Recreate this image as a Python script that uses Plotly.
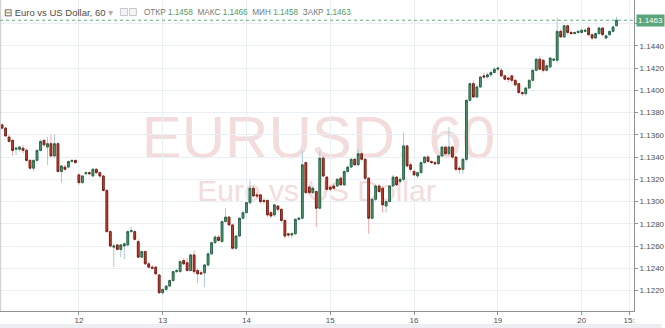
import plotly.graph_objects as go

# ---------------- data (EURUSD, 60 min) ----------------
open_ = [1.1369, 1.1366, 1.1358, 1.1355, 1.1347, 1.1347, 1.1348, 1.1346, 1.1337, 1.1330,
         1.1337, 1.1346, 1.1355, 1.1349, 1.1352, 1.1341, 1.1352, 1.1327, 1.1331, 1.1331,
         1.1336, 1.1337, 1.1324, 1.1317, 1.1325, 1.1326, 1.1323, 1.1329, 1.1326, 1.1323,
         1.1310, 1.1273, 1.1259, 1.1261, 1.1257, 1.1260, 1.1261, 1.1273, 1.1273, 1.1264,
         1.1250, 1.1255, 1.1244, 1.1241, 1.1241, 1.1234, 1.1218, 1.1221, 1.1224, 1.1229,
         1.1237, 1.1237, 1.1247, 1.1245, 1.1238, 1.1252, 1.1238, 1.1236, 1.1236, 1.1243,
         1.1253, 1.1263, 1.1268, 1.1264, 1.1282, 1.1286, 1.1279, 1.1258, 1.1269, 1.1285,
         1.1290, 1.1299, 1.1312, 1.1306, 1.1306, 1.1301, 1.1301, 1.1290, 1.1288, 1.1296,
         1.1293, 1.1283, 1.1271, 1.1270, 1.1271, 1.1284, 1.1285, 1.1335, 1.1313, 1.1308,
         1.1309, 1.1294, 1.1339, 1.1322, 1.1313, 1.1314, 1.1314, 1.1321, 1.1315, 1.1327,
         1.1331, 1.1338, 1.1333, 1.1343, 1.1338, 1.1321, 1.1285, 1.1302, 1.1314, 1.1312,
         1.1296, 1.1300, 1.1314, 1.1322, 1.1318, 1.1320, 1.1350, 1.1333, 1.1327, 1.1323,
         1.1326, 1.1335, 1.1340, 1.1336, 1.1335, 1.1334, 1.1341, 1.1349, 1.1343, 1.1349,
         1.1340, 1.1330, 1.1329, 1.1338, 1.1391, 1.1406, 1.1394, 1.1403, 1.1413, 1.1412,
         1.1414, 1.1416, 1.1419, 1.1418, 1.1413, 1.1411, 1.1413, 1.1409, 1.1406, 1.1398,
         1.1397, 1.1402, 1.1409, 1.1418, 1.1428, 1.1427, 1.1418, 1.1421, 1.1427, 1.1427,
         1.1453, 1.1448, 1.1458, 1.1452, 1.1451, 1.1452, 1.1452, 1.1453, 1.1456, 1.1450,
         1.1447, 1.1451, 1.1456, 1.1447, 1.1450, 1.1453, 1.1458]
high = [1.1370, 1.1367, 1.1360, 1.1356, 1.1350, 1.1350, 1.1351, 1.1348, 1.1338, 1.1338,
        1.1347, 1.1356, 1.1356, 1.1358, 1.1360, 1.1360, 1.1353, 1.1333, 1.1333, 1.1337,
        1.1338, 1.1338, 1.1325, 1.1324, 1.1327, 1.1327, 1.1330, 1.1330, 1.1327, 1.1324,
        1.1311, 1.1274, 1.1262, 1.1262, 1.1262, 1.1263, 1.1274, 1.1277, 1.1274, 1.1266,
        1.1256, 1.1256, 1.1246, 1.1243, 1.1242, 1.1235, 1.1222, 1.1225, 1.1230, 1.1238,
        1.1240, 1.1247, 1.1249, 1.1249, 1.1253, 1.1256, 1.1240, 1.1238, 1.1244, 1.1255,
        1.1264, 1.1270, 1.1270, 1.1283, 1.1294, 1.1287, 1.1280, 1.1270, 1.1286, 1.1292,
        1.1300, 1.1319, 1.1314, 1.1308, 1.1307, 1.1303, 1.1302, 1.1292, 1.1298, 1.1297,
        1.1294, 1.1284, 1.1272, 1.1273, 1.1285, 1.1286, 1.1346, 1.1336, 1.1315, 1.1314,
        1.1310, 1.1345, 1.1341, 1.1323, 1.1315, 1.1316, 1.1321, 1.1322, 1.1328, 1.1332,
        1.1339, 1.1339, 1.1347, 1.1345, 1.1339, 1.1322, 1.1303, 1.1316, 1.1316, 1.1314,
        1.1301, 1.1315, 1.1324, 1.1323, 1.1322, 1.1362, 1.1351, 1.1335, 1.1329, 1.1327,
        1.1336, 1.1341, 1.1342, 1.1337, 1.1337, 1.1342, 1.1350, 1.1350, 1.1367, 1.1350,
        1.1341, 1.1332, 1.1339, 1.1392, 1.1407, 1.1409, 1.1405, 1.1413, 1.1416, 1.1416,
        1.1418, 1.1421, 1.1421, 1.1420, 1.1414, 1.1412, 1.1414, 1.1410, 1.1407, 1.1399,
        1.1403, 1.1410, 1.1419, 1.1429, 1.1431, 1.1428, 1.1424, 1.1430, 1.1429, 1.1465,
        1.1455, 1.1459, 1.1459, 1.1454, 1.1453, 1.1454, 1.1456, 1.1455, 1.1458, 1.1451,
        1.1452, 1.1457, 1.1457, 1.1450, 1.1453, 1.1458, 1.1466]
low = [1.1365, 1.1358, 1.1353, 1.1341, 1.1342, 1.1345, 1.1343, 1.1336, 1.1329, 1.1327,
       1.1335, 1.1345, 1.1349, 1.1333, 1.1340, 1.1339, 1.1326, 1.1317, 1.1328, 1.1330,
       1.1335, 1.1334, 1.1315, 1.1316, 1.1324, 1.1324, 1.1322, 1.1325, 1.1321, 1.1309,
       1.1272, 1.1259, 1.1241, 1.1256, 1.1250, 1.1248, 1.1259, 1.1272, 1.1265, 1.1249,
       1.1249, 1.1243, 1.1240, 1.1239, 1.1234, 1.1217, 1.1216, 1.1220, 1.1223, 1.1228,
       1.1236, 1.1236, 1.1243, 1.1237, 1.1237, 1.1235, 1.1227, 1.1234, 1.1223, 1.1241,
       1.1252, 1.1262, 1.1264, 1.1263, 1.1281, 1.1278, 1.1257, 1.1257, 1.1268, 1.1284,
       1.1289, 1.1297, 1.1304, 1.1303, 1.1298, 1.1298, 1.1286, 1.1285, 1.1286, 1.1291,
       1.1281, 1.1267, 1.1268, 1.1267, 1.1270, 1.1283, 1.1284, 1.1307, 1.1306, 1.1307,
       1.1277, 1.1293, 1.1322, 1.1309, 1.1309, 1.1311, 1.1313, 1.1314, 1.1314, 1.1326,
       1.1330, 1.1332, 1.1332, 1.1336, 1.1319, 1.1271, 1.1284, 1.1300, 1.1308, 1.1290,
       1.1290, 1.1299, 1.1313, 1.1314, 1.1316, 1.1318, 1.1331, 1.1327, 1.1323, 1.1321,
       1.1325, 1.1334, 1.1335, 1.1334, 1.1333, 1.1333, 1.1340, 1.1341, 1.1341, 1.1338,
       1.1327, 1.1325, 1.1325, 1.1336, 1.1390, 1.1393, 1.1393, 1.1402, 1.1410, 1.1411,
       1.1412, 1.1415, 1.1417, 1.1412, 1.1409, 1.1407, 1.1407, 1.1403, 1.1397, 1.1395,
       1.1395, 1.1401, 1.1408, 1.1417, 1.1418, 1.1416, 1.1417, 1.1420, 1.1426, 1.1425,
       1.1447, 1.1447, 1.1450, 1.1450, 1.1450, 1.1450, 1.1451, 1.1452, 1.1449, 1.1445,
       1.1446, 1.1450, 1.1449, 1.1446, 1.1449, 1.1452, 1.1458]
close = [1.1366, 1.1359, 1.1354, 1.1346, 1.1348, 1.1349, 1.1346, 1.1337, 1.1330, 1.1337,
         1.1346, 1.1354, 1.1351, 1.1352, 1.1341, 1.1352, 1.1327, 1.1332, 1.1329, 1.1336,
         1.1337, 1.1335, 1.1317, 1.1323, 1.1326, 1.1325, 1.1329, 1.1326, 1.1323, 1.1310,
         1.1273, 1.1260, 1.1260, 1.1257, 1.1261, 1.1262, 1.1273, 1.1274, 1.1266, 1.1250,
         1.1255, 1.1244, 1.1241, 1.1240, 1.1235, 1.1218, 1.1221, 1.1224, 1.1229, 1.1237,
         1.1238, 1.1246, 1.1244, 1.1238, 1.1252, 1.1237, 1.1235, 1.1235, 1.1243, 1.1253,
         1.1263, 1.1268, 1.1265, 1.1282, 1.1286, 1.1279, 1.1258, 1.1269, 1.1285, 1.1290,
         1.1299, 1.1312, 1.1305, 1.1305, 1.1300, 1.1300, 1.1288, 1.1287, 1.1297, 1.1293,
         1.1283, 1.1269, 1.1270, 1.1271, 1.1284, 1.1285, 1.1333, 1.1308, 1.1308, 1.1312,
         1.1294, 1.1339, 1.1323, 1.1311, 1.1311, 1.1312, 1.1320, 1.1315, 1.1327, 1.1331,
         1.1338, 1.1333, 1.1343, 1.1338, 1.1321, 1.1285, 1.1302, 1.1314, 1.1309, 1.1297,
         1.1300, 1.1314, 1.1322, 1.1315, 1.1320, 1.1350, 1.1332, 1.1329, 1.1324, 1.1326,
         1.1335, 1.1340, 1.1336, 1.1335, 1.1334, 1.1341, 1.1349, 1.1343, 1.1349, 1.1340,
         1.1329, 1.1329, 1.1338, 1.1391, 1.1406, 1.1394, 1.1403, 1.1412, 1.1412, 1.1414,
         1.1416, 1.1419, 1.1420, 1.1413, 1.1410, 1.1410, 1.1409, 1.1405, 1.1398, 1.1397,
         1.1402, 1.1409, 1.1418, 1.1428, 1.1419, 1.1418, 1.1422, 1.1429, 1.1428, 1.1453,
         1.1448, 1.1458, 1.1452, 1.1451, 1.1452, 1.1453, 1.1454, 1.1454, 1.1450, 1.1447,
         1.1451, 1.1456, 1.1450, 1.1449, 1.1453, 1.1457, 1.1463]

day_labels = ["12", "13", "14", "15", "16", "19", "20"]
first_day_bar = 22          # bar index of the first "12" candle (00:00)
bars_per_day = 24
last_hour_label = "15:"
price_tick_values = [1.122, 1.124, 1.126, 1.128, 1.130, 1.132, 1.134,
                     1.136, 1.138, 1.140, 1.142, 1.144, 1.146]
symbol_title = "Euro vs US Dollar, 60"
watermark_big = "EURUSD, 60"
watermark_small = "Euro vs US Dollar"

# ---------------- styles ----------------
UP_FILL, UP_LINE, UP_WICK = "#53a078", "#2b6444", "#a9cbd3"
DN_FILL, DN_LINE, DN_WICK = "#cc4531", "#74231a", "#f2a9a7"
GRID = "#e9eff4"
AXIS = "#8e9196"
TXT = "#4f4f4f"
GREEN_TXT = "#4c9a6c"

x = list(range(len(close)))
body_hi = [max(o, c) for o, c in zip(open_, close)]
body_lo = [min(o, c) for o, c in zip(open_, close)]

fig = go.Figure()
# wicks (pale)
fig.add_trace(go.Candlestick(
    x=x, open=open_, high=high, low=low, close=close,
    increasing=dict(line=dict(color=UP_WICK, width=1), fillcolor=UP_WICK),
    decreasing=dict(line=dict(color=DN_WICK, width=1), fillcolor=DN_WICK),
    whiskerwidth=0, hoverinfo="skip", showlegend=False))
# bodies with dark borders
fig.add_trace(go.Candlestick(
    x=x, open=open_, high=body_hi, low=body_lo, close=close,
    increasing=dict(line=dict(color=UP_LINE, width=1), fillcolor=UP_FILL),
    decreasing=dict(line=dict(color=DN_LINE, width=1), fillcolor=DN_FILL),
    whiskerwidth=0, hoverinfo="skip", showlegend=False))

tickvals = [first_day_bar + k * bars_per_day for k in range(len(day_labels))]
ticktext = list(day_labels)
tickvals.append(tickvals[-1] + 15 - 1.4)
ticktext.append(last_hour_label)

# the top price label is hidden behind the last-price marker
y_ticktext = ["{:.4f}".format(v) for v in price_tick_values[:-1]] + [""]

y_lo, y_hi = 1.12016, 1.14812
fig.update_layout(
    width=665, height=328,
    margin=dict(l=0, r=28, t=0, b=17),
    paper_bgcolor="white", plot_bgcolor="white",
    font=dict(family="Liberation Sans, Arial, sans-serif", color=TXT),
    showlegend=False, hovermode=False, boxgap=0.28,
    xaxis=dict(range=[-0.6, 181.0], tickvals=tickvals, ticktext=ticktext,
               showgrid=True, gridcolor=GRID, gridwidth=1, zeroline=False,
               showline=True, linecolor=AXIS, linewidth=1,
               ticks="outside", ticklen=3, tickcolor=AXIS, ticklabelstandoff=-2,
               tickfont=dict(size=8, color=TXT), rangeslider=dict(visible=False),
               fixedrange=True),
    yaxis=dict(range=[y_lo, y_hi], side="right", tickvals=price_tick_values,
               ticktext=y_ticktext, showgrid=True, gridcolor=GRID, gridwidth=1,
               zeroline=False, showline=True, linecolor=AXIS, linewidth=1,
               ticks="outside", ticklen=3, tickcolor=AXIS,
               tickfont=dict(size=8, color=TXT), fixedrange=True),
)

W, H = 637.0, 311.0  # plot area size in px

def px(xp):
    return xp / W

def py(yp):
    return 1 - yp / H

shapes = []
# watermark (below the candles)
shapes.append(dict(type="rect", xref="paper", yref="paper", layer="below",
                   x0=px(100), x1=px(540), y0=py(157), y1=py(105),
                   line=dict(width=0), fillcolor="rgba(0,0,0,0)",
                   label=dict(text=watermark_big, textposition="middle center",
                              font=dict(size=60, color="#f3dcdc",
                                        family="Liberation Sans, Arial"))))
shapes.append(dict(type="rect", xref="paper", yref="paper", layer="below",
                   x0=px(118), x1=px(518), y0=py(201), y1=py(174),
                   line=dict(width=0), fillcolor="rgba(0,0,0,0)",
                   label=dict(text=watermark_small, textposition="middle center",
                              font=dict(size=30, color="#f3dcdc",
                                        family="Liberation Sans, Arial"))))
# left pane border
shapes.append(dict(type="line", xref="paper", yref="paper", x0=0.001, x1=0.001,
                   y0=0, y1=1, line=dict(color="#c8cbd0", width=1)))
# last price dotted line
shapes.append(dict(type="line", xref="paper", yref="y", x0=0, x1=1,
                   y0=close[-1], y1=close[-1],
                   line=dict(color="#5fae80", width=1, dash="dot")))
# bottom strip
shapes.append(dict(type="rect", xref="paper", yref="paper",
                   x0=0, x1=665 / W, y0=-(328 - H) / H, y1=-(324 - H) / H,
                   line=dict(width=0), fillcolor="#eceef1"))
# two small legend icons
for x0 in (121, 130):
    shapes.append(dict(type="rect", xref="paper", yref="paper",
                       x0=px(x0), x1=px(x0 + 7), y0=py(15.5), y1=py(8.5),
                       line=dict(color="#c4c6ca", width=1), fillcolor="#f4f4f6"))
fig.update_layout(shapes=shapes)

annotations = []
annotations.append(dict(xref="paper", yref="paper", x=px(2), y=py(12),
                        xanchor="left", yanchor="middle", showarrow=False,
                        text="⊟ " + symbol_title + " <span style='color:#b0b0b0'>▾</span>",
                        font=dict(size=9.5, color="#4a4a4a",
                                  family="Liberation Sans, Arial")))
ohlc_txt = ("<span style='color:#777'>ОТКР</span> {:.4f}  "
            "<span style='color:#777'>МАКС</span> {:.4f}  "
            "<span style='color:#777'>МИН</span> {:.4f}  "
            "<span style='color:#777'>ЗАКР</span> {:.4f}").format(
    open_[-1], high[-1], low[-1], close[-1])
annotations.append(dict(xref="paper", yref="paper", x=px(143), y=py(12),
                        xanchor="left", yanchor="middle", showarrow=False,
                        text=ohlc_txt,
                        font=dict(size=8.2, color=GREEN_TXT,
                                  family="Liberation Sans, Arial")))
# last price label on the price scale
annotations.append(dict(xref="paper", yref="y", x=1.0, y=close[-1],
                        xanchor="left", yanchor="middle", showarrow=False,
                        text="{:.4f}".format(close[-1]), bgcolor="#5aa57a",
                        borderpad=1, xshift=2,
                        font=dict(size=8, color="white",
                                  family="Liberation Sans, Arial")))
fig.update_layout(annotations=annotations)

fig.write_html("out.html")
